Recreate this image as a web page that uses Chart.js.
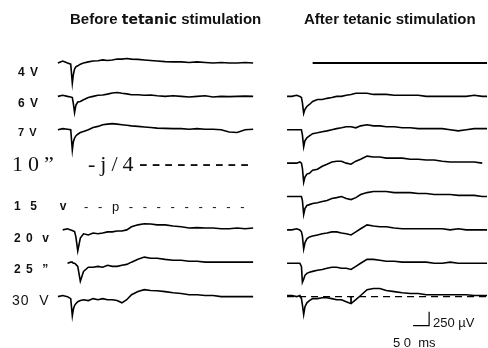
<!DOCTYPE html>
<html>
<head>
<meta charset="utf-8">
<script src="https://cdn.jsdelivr.net/npm/chart.js@4.4.0/dist/chart.umd.min.js"></script>
<style>
  body { margin: 0; background: #fff; }
  #wrap { position: relative; width: 488px; height: 348px; overflow: hidden;
          font-family: "Liberation Sans", Arial, sans-serif; color: #111; }
  #wrap canvas { position: absolute; left: 0; top: 0; }
  .t { position: absolute; white-space: pre; line-height: 1; }
  .title { font-size: 15px; font-weight: bold; }
  .tet { font-family: "DejaVu Sans", sans-serif; font-weight: bold; font-size: 14px; }
  .lab { font-size: 12px; font-weight: bold; letter-spacing: 1px; }
  .serif { font-family: "Liberation Serif", "Times New Roman", serif; font-size: 22px; }
  .bar { font-size: 13px; }
</style>
</head>
<body>
<div id="wrap">
  <canvas id="traces" width="488" height="348"></canvas>
</div>
<script>
// ─── Data (µV, relative to each trace's baseline) ─────────────────────────
// sample times after the start of each sweep, ms
const TIME_MS = [0, 15, 30, 40, 45, 48, 52, 56, 62, 70, 80, 95, 110, 125, 140, 155, 170, 185, 200, 215,
                 230, 250, 270, 290, 310, 335, 360, 385, 410, 435, 460, 485, 510, 535, 560, 585, 610, 625];

const BEFORE_4V  = [0, 35, 0, -20, -360, -215, -110, -70, -50, -20, 0, 20, 35, 40, 55, 45, 55, 70, 70, 80,
                    70, 65, 55, 45, 35, 25, 20, 20, 10, 20, 10, 0, 10, 0, 0, 10, 0, null];
const BEFORE_6V  = [0, 20, 0, -10, -20, -120, -290, -160, -100, -90, -60, -20, 0, 20, 25, 40, 60, 70, 55, 45,
                    30, 30, 20, 25, 10, 0, 10, 0, -10, 0, 10, -10, 0, -5, 0, 5, 0, null];
const BEFORE_7V  = [0, 20, 10, 0, -360, -220, -150, -110, -80, -50, -30, 0, 40, 60, 90, 100, 110, 100, 90, 80,
                    70, 60, 50, 40, 30, 25, 20, 20, 10, 20, 10, 10, 0, -40, -50, 0, 10, null];
const BEFORE_20V = [null, 0, 20, 0, -10, -20, -30, -120, -375, -145, -70, -90, -55, -70, -55, -35, -35, -20, -20, 0,
                    55, 90, 110, 105, 90, 90, 70, 55, 35, 40, 35, 35, 20, 20, 35, 20, 35, null];
const BEFORE_25V = [null, null, 0, 20, 20, 0, 0, -20, -55, -320, -145, -70, -70, -55, -70, -35, -55, -55, -35, -20,
                    20, 70, 110, 90, 90, 70, 55, 55, 35, 35, 20, 20, 20, 20, 20, 20, 20, null];
const BEFORE_30V = [0, 20, 0, -35, -340, -230, -160, -125, -90, -70, -55, -70, -35, -55, -35, -55, -55, -70, -110, -55,
                    35, 90, 125, 110, 105, 90, 70, 55, 35, 35, 20, 20, 0, 0, 0, 0, 0, null];

const AFTER_4V  = [null, null, null, null, null, null, null, null, null, null, 0, 0, 0, 0, 0, 0, 0, 0, 0, 0,
                   0, 0, 0, 0, 0, 0, 0, 0, 0, 0, 0, 0, 0, 0, 0, 0, 0, 0];
const AFTER_6V  = [0, 0, 20, 0, -20, -110, -305, -230, -180, -145, -90, -55, -55, -35, -20, 0, 0, 20, 35, 55,
                   55, 55, 35, 35, 35, 20, 20, 20, 20, 0, 0, 0, 0, 0, 0, 20, 0, 0];
const AFTER_7V  = [0, 0, 0, 0, 0, -90, -305, -195, -145, -110, -70, -55, -35, -20, 0, 20, 35, 55, 55, 35,
                   70, 90, 70, 70, 55, 55, 35, 35, 20, 20, 20, 20, 0, -20, 0, 20, 20, 20];
const AFTER_10V = [0, 0, 0, 20, 0, -90, -340, -250, -195, -180, -125, -110, -55, -20, 20, 35, 35, 0, -20, 35,
                   70, 125, 110, 110, 90, 90, 90, 70, 70, 55, 55, 35, 20, 20, 20, 20, 0, null];
const AFTER_15V = [0, 0, 0, 0, 0, -70, -320, -215, -160, -145, -125, -110, -90, -70, -35, -20, 0, -35, -55, -20,
                   35, 70, 90, 90, 90, 70, 70, 70, 55, 55, 35, 35, 35, 20, 20, 20, 0, 0];
const AFTER_20V = [0, 0, 20, 0, -35, -110, -340, -230, -160, -125, -110, -90, -70, -55, -35, -35, -55, -70, -90, -35,
                   20, 90, 70, 55, 55, 35, 20, 20, 20, 20, 20, 20, 0, 20, 0, 0, 0, 0];
const AFTER_25V = [0, 0, 0, 0, -55, -340, -285, -215, -180, -160, -145, -125, -110, -90, -70, -70, -90, -90, -110, -55,
                   0, 70, 70, 55, 35, 35, 20, 20, 20, 20, 0, 0, 20, 0, 0, 0, 0, 0];
const AFTER_30V = [20, 20, 0, 20, -35, -145, -320, -180, -110, -70, -35, -35, -20, -20, -35, -55, -55, -90, -125, -55,
                   20, 125, 145, 145, 110, 90, 70, 55, 55, 35, 35, 35, 35, 35, 35, 20, 20, 20];

// marker on the late trough of the last "after" sweep
const MARK_MS = 200;
const MARK_UV = -125;

const TITLES = ['Before ', 'tetanic', ' stimulation', 'After tetanic stimulation'];
const ROW_LABELS = ['4 V', '6 V', '7 V', '10\u201D', '1  5     v', '2 0  v', '2 5  \u201D', '30  V'];
const ROW_10_TEXT = ['-j/4', '---------'];
const ROW_15_TEXT = '- - p - - - - - - - - -';
const SCALE_MS = 50;
const SCALE_UV = 250;
const SCALE_TEXT = ['250 \u00B5V', '5 0  ms'];

// ─── Layout ───────────────────────────────────────────────────────────────
const ROW_STEP_UV = 596;        // vertical spacing of the sweeps
const AFTER_OFFSET_MS = 716;    // right-hand column starts here
const X_MIN = -181, X_MAX = 1344;
const Y_MAX = 1125, Y_MIN = -5089;

function sweep(values, row, offset) {
    return values.map((v, i) => ({
        x: TIME_MS[i] + offset,
        y: v === null ? null : v - row * ROW_STEP_UV
    }));
}

function line(data, width, dash) {
    return {
        data,
        borderColor: '#000',
        borderWidth: width || 1.6,
        borderDash: dash || [],
        pointRadius: 0,
        tension: 0,
        fill: false,
        spanGaps: false
    };
}

const lastT = TIME_MS[TIME_MS.length - 1];
const base7 = -7 * ROW_STEP_UV;
const barX = AFTER_OFFSET_MS + 394;
const barY = base7 - 518;

const datasets = [
    line(sweep(BEFORE_4V, 0, 0)),
    line(sweep(BEFORE_6V, 1, 0)),
    line(sweep(BEFORE_7V, 2, 0)),
    line(sweep(BEFORE_20V, 5, 0)),
    line(sweep(BEFORE_25V, 6, 0)),
    line(sweep(BEFORE_30V, 7, 0)),
    line(sweep(AFTER_4V, 0, AFTER_OFFSET_MS), 2.2),
    line(sweep(AFTER_6V, 1, AFTER_OFFSET_MS)),
    line(sweep(AFTER_7V, 2, AFTER_OFFSET_MS)),
    line(sweep(AFTER_10V, 3, AFTER_OFFSET_MS)),
    line(sweep(AFTER_15V, 4, AFTER_OFFSET_MS)),
    line(sweep(AFTER_20V, 5, AFTER_OFFSET_MS)),
    line(sweep(AFTER_25V, 6, AFTER_OFFSET_MS)),
    line(sweep(AFTER_30V, 7, AFTER_OFFSET_MS)),
    // dashed baseline under the last sweep
    line([{ x: AFTER_OFFSET_MS, y: base7 }, { x: AFTER_OFFSET_MS + lastT, y: base7 }], 1.1, [7, 5]),
    // small tick from the baseline down to the late trough
    line([{ x: AFTER_OFFSET_MS + MARK_MS - 6, y: base7 }, { x: AFTER_OFFSET_MS + MARK_MS + 6, y: base7 }, null,
          { x: AFTER_OFFSET_MS + MARK_MS, y: base7 }, { x: AFTER_OFFSET_MS + MARK_MS, y: base7 + MARK_UV }], 1),
    // calibration bar
    line([{ x: barX, y: barY }, { x: barX + SCALE_MS, y: barY }, { x: barX + SCALE_MS, y: barY + SCALE_UV }], 1.2)
];
// the gap entry of the tick needs an x value
datasets[15].data[2] = { x: AFTER_OFFSET_MS + MARK_MS, y: null };

new Chart(document.getElementById('traces'), {
    type: 'line',
    data: { datasets },
    options: {
        responsive: false,
        animation: false,
        events: [],
        layout: { padding: 0 },
        plugins: { legend: { display: false }, tooltip: { enabled: false } },
        scales: {
            x: { type: 'linear', min: X_MIN, max: X_MAX, display: false },
            y: { type: 'linear', min: Y_MIN, max: Y_MAX, display: false }
        }
    }
});

// ─── Text ─────────────────────────────────────────────────────────────────
const wrap = document.getElementById('wrap');
function addText(text, cls, left, top, extra) {
    const d = document.createElement('div');
    d.className = 't ' + cls;
    d.style.left = left + 'px';
    d.style.top = top + 'px';
    if (extra) Object.assign(d.style, extra);
    d.innerHTML = text;
    wrap.appendChild(d);
    return d;
}

addText(TITLES[0] + '<span class="tet">' + TITLES[1] + '</span>' + TITLES[2], 'title', 70, 11);
addText(TITLES[3], 'title', 304, 11);

const LABEL_POS = [[18, 66], [18, 97], [18, 127, { fontSize: '11px' }], [12, 153, { letterSpacing: '5px' }, 'serif'],
                   [14, 200], [14, 232], [14, 263], [12, 293, { fontSize: '14px', fontWeight: 'normal' }]];
ROW_LABELS.forEach((txt, i) => {
    const [x, y, extra, cls] = LABEL_POS[i];
    addText(txt, cls ? cls : 'lab', x, y, extra);
});
addText(ROW_10_TEXT[0], 'serif', 88, 153, { letterSpacing: '5px' });
addText(ROW_10_TEXT[1], 'serif', 139, 150, { letterSpacing: '4px', fontSize: '26px' });
addText(ROW_15_TEXT, 'lab', 84, 200, { letterSpacing: '3px', fontWeight: 'normal', fontSize: '13px' });

addText(SCALE_TEXT[0], 'bar', 433, 316);
addText(SCALE_TEXT[1], 'bar', 393, 336);
</script>
</body>
</html>
